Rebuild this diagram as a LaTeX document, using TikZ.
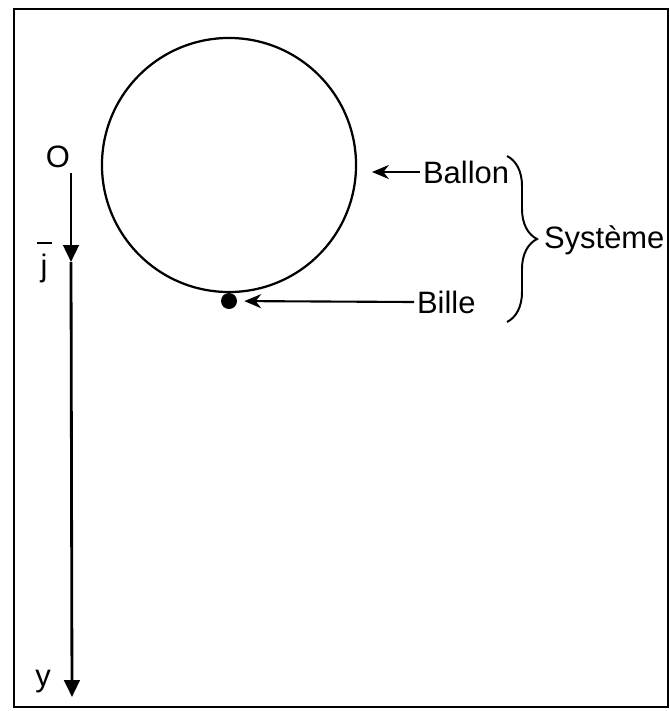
\documentclass[tikz,border=0pt]{standalone}
\usepackage{fontspec}
\setmainfont{Liberation Sans}
\usetikzlibrary{positioning,arrows.meta,decorations.pathreplacing}

\begin{document}
\begin{tikzpicture}[
x=0.025cm, y=-0.025cm,
lbl/.style={inner sep=2pt, font=\fontsize{22}{26}\selectfont},
arr/.style={-{Stealth[length=12pt,width=10pt]}, line width=1.5pt},
axis/.style={-{Triangle[length=12pt,width=11pt]}, line width=2pt},
ball/.style={draw, circle, line width=1.6pt, minimum size=6.35cm, inner sep=0pt},
brc/.style={decorate, decoration={brace, amplitude=0.75cm}, line width=1.4pt}
]
\useasboundingbox (0,0) rectangle (670,711);
\draw[line width=2pt] (14,9) rectangle (668,707);

\node[ball] (ballon) at (229,165) {};
\node[circle, fill, inner sep=0pt, minimum size=0.4cm] (bille) at (229,301) {};
\node[lbl, anchor=west] (tballon) at (420,172) {Ballon};
\node[lbl, anchor=west] (tbille) at (414,302) {Bille};
\node[lbl, anchor=west] (tsys) at (541,240) {Système};
\node[lbl] (o) at (58,157) {O};
\node[lbl] (j) at (44,268) {j};
\node[lbl] (y) at (43,682) {y};

\coordinate (top) at (71,173);
\coordinate (jtip) at (71,262);
\coordinate (bot) at (72,697);
\coordinate (bedge) at (372,172);
\coordinate (btop) at (507,156);
\coordinate (bbot) at (507,322);

% vector bar over j
\draw[line width=1.5pt] (37,243) -- (52,243);

\draw[axis] (top) -- (jtip);
\draw[axis] (jtip) -- (bot);
\draw[arr] (tballon.west) -- (bedge);
\draw[arr, shorten >=5pt] (tbille.west) -- (bille);
\draw[brc] (btop) -- (bbot);
\end{tikzpicture}
\end{document}
